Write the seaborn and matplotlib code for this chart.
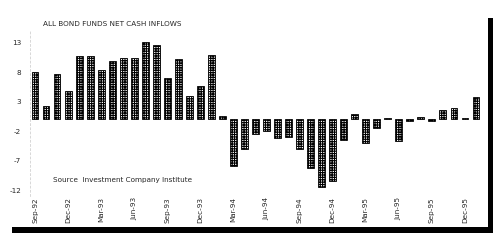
import matplotlib
matplotlib.use("Agg")
import matplotlib.pyplot as plt
from matplotlib.patches import Rectangle
import seaborn as sns
import pandas as pd

months = ["Sep-92", "Oct-92", "Nov-92", "Dec-92",
          "Jan-93", "Feb-93", "Mar-93", "Apr-93", "May-93", "Jun-93",
          "Jul-93", "Aug-93", "Sep-93", "Oct-93", "Nov-93", "Dec-93",
          "Jan-94", "Feb-94", "Mar-94", "Apr-94", "May-94", "Jun-94",
          "Jul-94", "Aug-94", "Sep-94", "Oct-94", "Nov-94", "Dec-94",
          "Jan-95", "Feb-95", "Mar-95", "Apr-95", "May-95", "Jun-95",
          "Jul-95", "Aug-95", "Sep-95", "Oct-95", "Nov-95", "Dec-95",
          "Jan-96"]
inflows = [8.0, 2.3, 7.7, 4.8,
           10.8, 10.8, 8.4, 9.9, 10.4, 10.4,
           13.1, 12.6, 7.1, 10.3, 4.0, 5.7,
           11.0, 0.6, -7.9, -5.0, -2.5, -1.9,
           -3.1, -3.0, -5.1, -8.3, -11.4, -10.5,
           -3.5, 0.9, -4.0, -1.5, 0.3, -3.6,
           -0.2, 0.4, -0.2, 1.6, 2.0, 0.3,
           3.9]
tick_labels = ["Sep-92", "Dec-92", "Mar-93", "Jun-93", "Sep-93", "Dec-93",
               "Mar-94", "Jun-94", "Sep-94", "Dec-94", "Mar-95", "Jun-95",
               "Sep-95", "Dec-95"]
y_ticks = [13, 8, 3, -2, -7, -12]
title = "ALL BOND FUNDS NET CASH INFLOWS"
source = "Source  Investment Company Institute"

sns.set_style("white")
plt.rcParams["font.family"] = ["DejaVu Sans"]
plt.rcParams["hatch.linewidth"] = 0.8
plt.rcParams["axes.unicode_minus"] = False

df = pd.DataFrame({"month": months, "value": inflows})

fig = plt.figure(figsize=(5.03, 2.41), dpi=100)
ax = fig.add_axes([29.5 / 503, 0.187, 452 / 503, 0.6835])

sns.barplot(data=df, x="month", y="value", order=months, color="white",
            saturation=1, edgecolor="black", linewidth=0.6,
            hatch="+++++++", width=0.62, ax=ax)

ax.set_xlim(-0.5, len(months) - 0.5)
ax.set_ylim(-13, 15)
ax.set_yticks(y_ticks)
ax.set_yticklabels([str(v) for v in y_ticks], fontsize=5.2)
tick_pos = [months.index(m) for m in tick_labels]
ax.set_xticks(tick_pos)
ax.set_xticklabels(tick_labels, rotation=90, fontsize=5.2)
ax.tick_params(axis="both", length=0, pad=6)
ax.tick_params(axis="x", pad=1)
ax.set_xlabel("")
ax.set_ylabel("")

for s in ["top", "right", "bottom"]:
    ax.spines[s].set_visible(False)
ax.spines["left"].set_color("#c8c8c8")
ax.spines["left"].set_linewidth(0.5)
ax.spines["left"].set_linestyle((0, (3, 3)))

ax.text(0.052, 0.097, source, transform=ax.transAxes, fontsize=5.2,
        ha="left", va="center")
fig.text(43 / 503, 1 - 24 / 241, title, fontsize=5.2, ha="left", va="center")

# Box decoration: thick bottom/right shadow lines
fig.add_artist(Rectangle((12 / 503, (241 - 233) / 241), (493 - 12) / 503, 6 / 241,
                         transform=fig.transFigure, color="black", lw=0))
fig.add_artist(Rectangle((488 / 503, (241 - 233) / 241), 5 / 503, (233 - 18) / 241,
                         transform=fig.transFigure, color="black", lw=0))

fig.savefig("out.png", dpi=100)
